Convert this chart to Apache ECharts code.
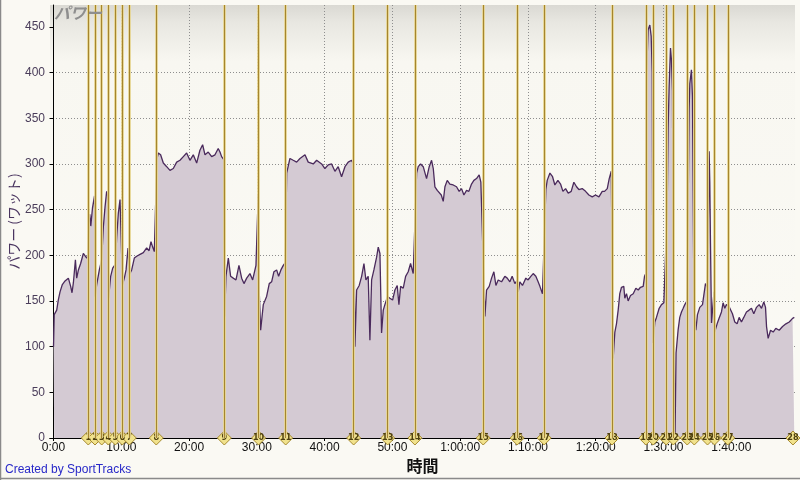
<!DOCTYPE html>
<html><head><meta charset="utf-8">
<script src="https://cdn.jsdelivr.net/npm/echarts@6/dist/echarts.min.js"></script>
<style>html,body{margin:0;padding:0;background:#FAF9F3;}#c{width:800px;height:480px;}</style>
</head><body><div id="c"></div>
<script>
// Time in minutes
const minutes = [0.0,0.1,0.47,0.7,0.96,1.3,1.7,2.19,2.53,2.73,2.93,3.23,3.42,3.67,4.0,4.4,4.65,4.9,5.1,5.2,5.35,5.5,5.75,6.05,6.15,6.37,6.76,7.1,7.35,7.6,7.84,7.99,8.12,8.43,8.73,8.92,9.12,9.32,9.56,9.81,10.0,10.18,10.45,10.7,10.99,11.2,11.53,11.92,12.27,12.76,13.25,13.74,14.1,14.38,14.63,14.87,15.1,15.25,15.46,15.8,16.2,16.7,17.18,17.67,18.17,18.66,19.15,19.64,20.13,20.62,21.12,21.6,22.0,22.35,22.83,23.33,23.82,24.3,24.56,24.8,25.1,25.25,25.44,25.79,26.13,26.52,26.92,27.36,27.76,28.1,28.5,28.98,29.38,29.87,30.1,30.2,30.35,30.56,30.95,31.44,31.83,32.18,32.52,32.92,33.21,33.55,33.9,34.2,34.4,34.88,35.37,35.87,36.36,37.1,37.58,38.32,38.82,39.56,40.04,40.53,41.03,41.52,42.0,42.5,43.0,43.48,43.98,44.25,44.47,44.72,45.1,45.46,45.8,46.09,46.43,46.68,46.93,47.27,47.67,47.91,48.16,48.4,48.65,48.89,49.29,49.63,50.03,50.37,50.71,50.96,51.21,51.6,51.95,52.33,52.68,53.07,53.3,53.57,53.81,54.16,54.55,55.04,55.43,55.78,56.03,56.27,56.62,56.91,57.21,57.5,57.75,58.09,58.48,58.97,59.46,59.85,60.2,60.55,60.94,61.28,61.67,62.02,62.41,62.8,63.05,63.3,63.65,63.89,64.28,64.63,64.97,65.27,65.61,66.1,66.59,66.94,67.33,67.67,68.07,68.35,68.56,68.8,69.19,69.69,70.03,70.42,70.77,71.16,71.5,71.76,72.14,72.38,72.64,72.84,73.24,73.63,73.97,74.42,74.81,75.16,75.55,75.94,76.38,76.77,77.17,77.51,78.0,78.5,78.99,79.48,79.97,80.47,80.96,81.3,81.7,81.99,82.29,82.4,82.57,82.82,83.06,83.31,83.55,83.8,84.14,84.29,84.54,84.78,85.13,85.53,85.92,86.27,86.6,87.0,87.2,87.38,87.49,87.73,87.98,88.18,88.33,88.45,88.72,88.96,89.36,89.7,90.05,90.3,90.54,90.68,90.83,91.03,91.17,91.32,91.45,91.7,91.85,92.15,92.4,92.65,92.9,93.14,93.45,93.63,93.78,93.88,94.12,94.27,94.5,94.77,95.01,95.35,95.75,95.94,96.19,96.45,96.64,96.73,96.83,96.93,97.08,97.3,97.45,97.55,97.91,98.2,98.55,98.79,99.04,99.28,99.6,99.78,100.17,100.52,100.86,101.16,101.5,101.84,102.24,102.63,102.98,103.32,103.72,104.11,104.46,104.8,105.05,105.2,105.44,105.79,106.18,106.57,107.07,107.56,108.06,108.55,109.04,109.3];
// Power in watts
const watts = [100,135,140,151,160,168,172,175,166,159,170,195,175,184,191,202,204,197,200,235,245,232,252,265,155,168,184,195,231,253,270,265,153,177,186,184,190,220,246,261,262,168,175,184,208,179,184,197,199,201,203,208,205,215,209,204,206,305,312,310,301,297,293,295,302,304,308,312,304,310,301,315,321,310,313,308,310,317,313,308,305,133,177,197,177,175,173,189,175,169,175,180,173,189,190,266,160,118,146,155,169,171,182,184,177,184,189,192,290,306,304,302,306,310,302,300,304,300,295,299,300,292,297,286,297,302,304,300,100,162,167,177,191,173,177,107,173,184,198,209,202,115,140,146,155,153,151,162,167,146,166,164,177,182,191,180,182,290,297,300,297,284,297,304,295,275,271,273,266,259,275,282,278,277,275,270,273,266,271,270,278,282,284,288,280,278,133,162,166,175,182,167,173,171,177,175,171,177,169,172,160,171,167,175,173,177,180,177,171,166,158,160,272,282,290,286,277,282,278,270,273,268,270,280,275,272,273,270,266,264,266,264,270,270,273,284,292,290,87,116,125,140,158,165,166,153,158,150,156,158,164,162,165,166,177,180,396,447,452,440,400,104,127,132,142,146,148,150,250,340,385,427,414,380,150,2,93,118,132,138,142,146,150,250,360,388,403,374,140,118,135,143,146,148,169,165,250,314,280,213,126,126,160,116,125,131,138,148,142,146,145,143,136,127,125,132,127,132,138,140,142,136,143,146,142,149,143,122,109,118,116,120,118,122,125,127,131,132];
const lapTimes = [5.13,6.12,7.11,8.09,9.12,10.15,11.18,15.16,25.2,30.26,34.25,44.28,49.3,53.32,63.4,68.41,72.39,82.4,87.4,88.47,90.4,91.45,93.5,94.54,96.49,97.52,99.48,109.1];
const lapLabels = ['1','2','3','4','5','6','7','8','9','10','11','12','13','14','15','16','17','18','19','20','21','22','23','24','25','26','27','28'];
const lapLineCount = 27;
const yTicks = [0,50,100,150,200,250,300,350,400,450];
const xTicks = [0,10,20,30,40,50,60,70,80,90,100];

const series0 = minutes.map((t, i) => [t, watts[i]]);
function fmtTime(v) {
  const h = Math.floor(v / 60), m = Math.round(v % 60);
  const mm = (m < 10 ? '0' : '') + m;
  return h > 0 ? h + ':' + mm + ':00' : m + ':00';
}
const lapLineData = [];
lapTimes.slice(0, lapLineCount).forEach(t => {
  lapLineData.push({ xAxis: t, lineStyle: { color: '#E6D592', width: 3, type: 'solid', opacity: 0.9 } });
});
lapTimes.slice(0, lapLineCount).forEach(t => {
  lapLineData.push({ xAxis: t, lineStyle: { color: '#A5852E', width: 1, type: 'solid' } });
});

const chart = echarts.init(document.getElementById('c'), null, { renderer: 'canvas' });
chart.setOption({
  animation: false,
  backgroundColor: '#FAF9F3',
  textStyle: { fontFamily: '"Liberation Sans", "Noto Sans CJK JP", sans-serif' },
  grid: {
    left: 50, right: 5, top: 5, bottom: 42, show: true, borderWidth: 0,
    outerBoundsMode: 'none', containLabel: false,
    backgroundColor: new echarts.graphic.LinearGradient(0, 0, 0, 1, [
      { offset: 0, color: '#DAD9D3' },
      { offset: 0.04, color: '#E8E7E1' },
      { offset: 0.13, color: '#F8F7F1' },
      { offset: 1, color: '#FBFAF5' }
    ])
  },
  xAxis: {
    type: 'value', min: -0.52, max: 109.4,
    name: '時間', nameLocation: 'middle', nameGap: 20, nameMoveOverlap: false,
    nameTextStyle: { fontSize: 16, fontWeight: 'bold', color: '#111', fontFamily: '"Noto Sans CJK JP", sans-serif' },
    axisLine: { show: true, onZero: false, lineStyle: { color: '#000', width: 1 } },
    axisTick: { show: true, length: 3, customValues: xTicks, lineStyle: { color: '#000' } },
    axisLabel: { customValues: xTicks, formatter: fmtTime, color: '#111', fontSize: 12, margin: 4 },
    splitLine: { show: true, showMinLine: true, showMaxLine: false, lineStyle: { color: '#8E8E8E', type: [1, 2], width: 1 } }
  },
  yAxis: {
    type: 'value', min: 0, max: 474,
    name: 'パワー (ワット)', nameLocation: 'middle', nameGap: 29, nameRotate: 90, nameMoveOverlap: false,
    nameTextStyle: { fontSize: 14, color: '#4A3560', fontFamily: '"Noto Sans CJK JP", sans-serif' },
    axisLine: { show: true, lineStyle: { color: '#000', width: 1 } },
    axisTick: { show: true, length: 4, customValues: yTicks, lineStyle: { color: '#000' } },
    axisLabel: { customValues: yTicks, color: '#4A3D5A', fontSize: 12, margin: 5 },
    splitLine: { show: true, showMinLine: false, showMaxLine: false, lineStyle: { color: '#8E8E8E', type: [1, 2], width: 1 } }
  },
  series: [
    {
      type: 'line', data: series0, showSymbol: false, z: 2,
      lineStyle: { color: '#4A2A5C', width: 1.3 },
      areaStyle: { color: '#D4CAD3', opacity: 1 },
      silent: true
    },
    {
      type: 'scatter', data: lapTimes.slice(0, lapLineCount).map(t => [t, 0]), symbolSize: 0, z: 3, silent: true,
      markLine: { symbol: 'none', silent: true, label: { show: false }, data: lapLineData }
    },
    {
      type: 'scatter', z: 4, clip: false, silent: true,
      data: lapTimes.map((t, i) => ({ value: [t, 0], name: lapLabels[i] })),
      symbol: 'diamond', symbolSize: [14, 14],
      itemStyle: { color: '#F1E28C', borderColor: '#A68A30', borderWidth: 1, opacity: 1 },
      label: { show: true, position: 'inside', formatter: p => p.name, fontSize: 9, fontWeight: 'bold', color: '#4F4010', fontFamily: '"DejaVu Sans Condensed", "DejaVu Sans", sans-serif' }
    }
  ],
  graphic: [
    { type: 'text', left: 54, top: 5, z: 10, style: { text: 'パワー', fontSize: 16, fontStyle: 'italic', fontWeight: 'bold', fill: '#8E8E8E', fontFamily: '"Noto Sans CJK JP", sans-serif' } },
    { type: 'text', left: 5, top: 464, z: 10, style: { text: 'Created by SportTracks', fontSize: 12, fill: '#2828C8', fontFamily: '"Liberation Sans", sans-serif' } },
    { type: 'line', z: 10, shape: { x1: 0.5, y1: 0, x2: 0.5, y2: 480 }, style: { stroke: '#8A8A8A', lineWidth: 1.5 } },
    { type: 'line', z: 10, shape: { x1: 0, y1: 478.5, x2: 800, y2: 478.5 }, style: { stroke: '#8A8A8A', lineWidth: 1.5 } }
  ]
});
</script>
</body></html>
